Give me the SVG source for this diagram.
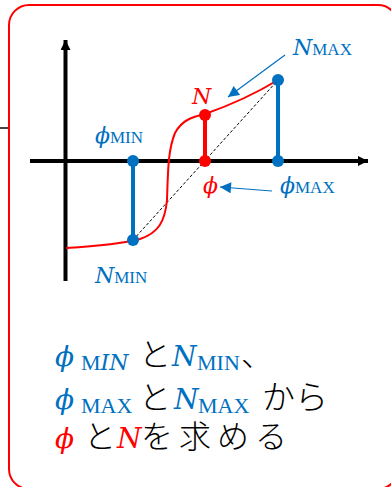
<svg xmlns="http://www.w3.org/2000/svg" width="391" height="487" viewBox="0 0 391 487">
<style>
.m{font-family:"DejaVu Serif","Liberation Serif",serif;font-style:italic}
.s{font-family:"Liberation Serif","DejaVu Serif",serif;font-style:normal}
.jp{font-family:"Noto Sans CJK JP","Noto Sans",sans-serif;fill:#000;font-weight:300;font-style:normal}
.b{fill:#0070C0}
.r{fill:#FF0000}
</style>
<defs>
<marker id="ah" viewBox="0 0 10 10" refX="10" refY="5" markerWidth="10" markerHeight="10" markerUnits="userSpaceOnUse" orient="auto"><path d="M0,0 L10,5 L0,10 z" fill="#000"/></marker>
<marker id="bh" viewBox="0 0 10 10" refX="10" refY="5" markerWidth="12" markerHeight="11" markerUnits="userSpaceOnUse" orient="auto"><path d="M0,0 L10,5 L0,10 z" fill="#0070C0"/></marker>
</defs>
<rect x="9" y="5" width="389" height="484" rx="20" fill="#fff" stroke="#FF0000" stroke-width="2"/>
<line x1="0" y1="128" x2="8" y2="128" stroke="#444" stroke-width="2"/>
<g id="axes" stroke="#000" stroke-width="4">
<line x1="65.5" y1="281" x2="65.5" y2="40" marker-end="url(#ah)"/>
<line x1="30" y1="161" x2="368" y2="161" marker-end="url(#ah)"/>
</g>
<g id="dash"><line x1="133" y1="240" x2="278" y2="80" stroke="#000" stroke-width="1" stroke-dasharray="3,2"/></g>
<g id="curve"><path d="M66,248 C100,246 125,243 140,239 C158,233 165,222 167,200 C168,170 168,150 175,133 C182,120 192,117 205,114 Q245,100 278,80" fill="none" stroke="#FF0000" stroke-width="2"/></g>
<g id="phiMin-NMin"><line x1="133" y1="161" x2="133" y2="240" stroke="#0070C0" stroke-width="4"/><circle cx="133" cy="161" r="6" fill="#0070C0"/><circle cx="133" cy="240" r="6" fill="#0070C0"/></g>
<g id="phiMax-NMax"><line x1="278" y1="161" x2="278" y2="80" stroke="#0070C0" stroke-width="4"/><circle cx="278" cy="161" r="6" fill="#0070C0"/><circle cx="278" cy="80" r="6" fill="#0070C0"/></g>
<g id="phi-N"><line x1="205" y1="161" x2="205" y2="115" stroke="#FF0000" stroke-width="4"/><circle cx="205" cy="161" r="6" fill="#FF0000"/><circle cx="205" cy="115" r="6" fill="#FF0000"/></g>
<g id="connectors" stroke="#0070C0" stroke-width="1.2" fill="none">
<line x1="285" y1="55" x2="228" y2="97" marker-end="url(#bh)"/>
<line x1="272" y1="191" x2="220" y2="187" marker-end="url(#bh)"/>
</g>
<g id="labels" font-size="22">
<text x="293" y="55" class="b"><tspan class="m">N</tspan><tspan class="s" font-size="17">MAX</tspan></text>
<text x="192" y="104" class="m r">N</text>
<text x="95" y="143" class="b"><tspan class="m">ϕ</tspan><tspan class="s" font-size="17">MIN</tspan></text>
<text x="95" y="283" class="b"><tspan class="m">N</tspan><tspan class="s" font-size="17">MIN</tspan></text>
<text x="203" y="193" class="m r">ϕ</text>
<text x="280" y="193" class="b"><tspan class="m">ϕ</tspan><tspan class="s" font-size="17">MAX</tspan></text>
</g>
<g id="note" font-size="28">
<text y="366" class="b"><tspan x="55" class="m">ϕ</tspan><tspan x="81" y="370" class="s" font-size="22">M</tspan><tspan class="m" font-size="22">IN</tspan><tspan x="139" y="366" class="jp" font-size="32">と</tspan><tspan x="172" class="m">N</tspan><tspan x="197" y="370" class="s" font-size="22">MIN</tspan><tspan x="241" y="366" class="jp" font-size="32">、</tspan></text>
<text y="409" class="b"><tspan x="55" class="m">ϕ</tspan><tspan x="81" y="413" class="s" font-size="22">MAX</tspan><tspan x="139" y="409" class="jp" font-size="32">と</tspan><tspan x="174" class="m">N</tspan><tspan x="198" y="413" class="s" font-size="22">MAX</tspan><tspan x="262" y="409" class="jp" font-size="33">から</tspan></text>
<text y="448" class="r"><tspan x="55" class="m">ϕ</tspan><tspan x="84" class="jp" font-size="32">と</tspan><tspan x="117" class="m">N</tspan><tspan x="141" class="jp" font-size="32" letter-spacing="6">を求める</tspan></text>
</g>
</svg>
